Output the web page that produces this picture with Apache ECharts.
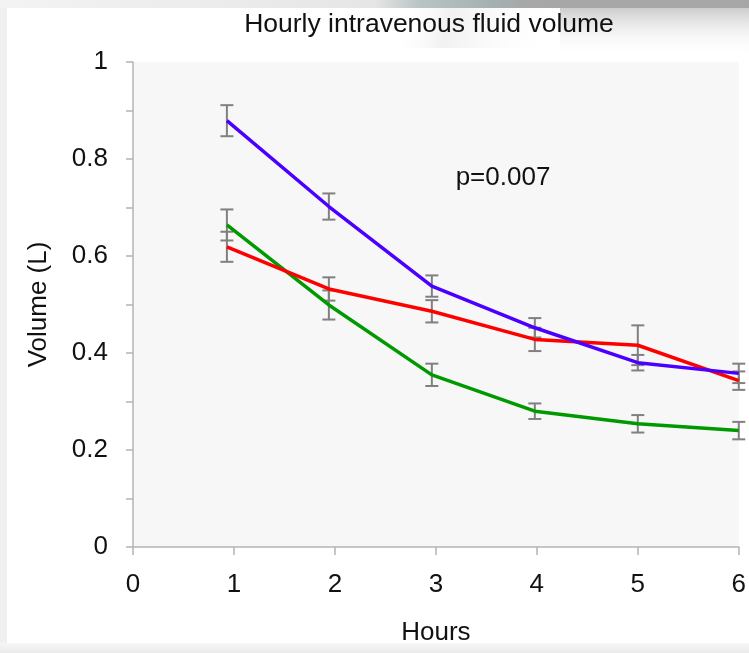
<!DOCTYPE html>
<html>
<head>
<meta charset="utf-8">
<script src="https://cdn.jsdelivr.net/npm/echarts@6/dist/echarts.min.js"></script>
<style>
html,body{margin:0;padding:0;background:#fff;}
#c{width:749px;height:653px;}
</style>
</head>
<body>
<div id="c"></div>
<script>
// ---- data ----
var hours = [0.93, 1.94, 2.96, 3.98, 5.0, 6.0];
var blueVals  = [0.879, 0.702, 0.538, 0.452, 0.380, 0.358];
var redVals   = [0.619, 0.532, 0.486, 0.428, 0.416, 0.343];
var greenVals = [0.664, 0.499, 0.355, 0.280, 0.254, 0.240];
var blueErr  = [0.032, 0.027, 0.022, 0.020, 0.016, 0.020];
var redErr   = [0.031, 0.024, 0.023, 0.024, 0.041, 0.019];
var greenErr = [0.032, 0.030, 0.023, 0.016, 0.018, 0.018];
var xTicks = [0, 1, 2, 3, 4, 5, 6];
var yTickLabels = ['0', '0.2', '0.4', '0.6', '0.8', '1'];
var titleText = 'Hourly intravenous fluid volume';
var pText = 'p=0.007';

var FONT = "'Liberation Sans', Arial, sans-serif";
var AX = '#b4b4b4';

function pairs(xs, ys) { return xs.map(function (x, i) { return [x, ys[i]]; }); }
function triples(xs, ys, es) { return xs.map(function (x, i) { return [x, ys[i], es[i]]; }); }

function errRender(params, api) {
  var x = api.value(0), y = api.value(1), e = api.value(2);
  var top = api.coord([x, y + e]);
  var bot = api.coord([x, y - e]);
  var hw = 6.5;
  var st = { stroke: '#808080', lineWidth: 2 };
  return {
    type: 'group',
    children: [
      { type: 'line', shape: { x1: top[0], y1: top[1], x2: bot[0], y2: bot[1] }, style: st },
      { type: 'line', shape: { x1: top[0] - hw, y1: top[1], x2: top[0] + hw, y2: top[1] }, style: st },
      { type: 'line', shape: { x1: bot[0] - hw, y1: bot[1], x2: bot[0] + hw, y2: bot[1] }, style: st }
    ]
  };
}

function errSeries(xs, ys, es) {
  return {
    type: 'custom', renderItem: errRender, data: triples(xs, ys, es),
    z: 2, silent: true, encode: { x: 0, y: [1] }
  };
}
function lineSeries(xs, ys, color) {
  return {
    type: 'line', data: pairs(xs, ys), showSymbol: false, symbol: 'none',
    lineStyle: { color: color, width: 3.5 }, z: 3, silent: true, animation: false
  };
}

var chart = echarts.init(document.getElementById('c'), null, { renderer: 'canvas' });
chart.setOption({
  animation: false,
  backgroundColor: '#ffffff',
  textStyle: { fontFamily: FONT },
  title: {
    text: titleText, left: 429, top: 11, textAlign: 'center', padding: 0,
    textStyle: { fontFamily: FONT, fontSize: 26.5, fontWeight: 'normal', color: '#111' }
  },
  grid: {
    left: 133, right: 9, top: 62, bottom: 106, show: true,
    backgroundColor: '#f7f7f7', borderWidth: 0
  },
  xAxis: {
    type: 'value', min: xTicks[0], max: xTicks[xTicks.length - 1], interval: 1,
    name: 'Hours', nameLocation: 'middle', nameGap: 73,
    nameTextStyle: { fontFamily: FONT, fontSize: 26, color: '#111' },
    axisLine: { show: true, lineStyle: { color: AX, width: 1.5 } },
    axisTick: { show: true, length: 8, lineStyle: { color: AX, width: 1.5 } },
    axisLabel: { margin: 25, fontFamily: FONT, fontSize: 26, color: '#111' },
    splitLine: { show: false }
  },
  yAxis: {
    type: 'value', min: 0, max: 1, interval: 0.1,
    name: 'Volume (L)', nameLocation: 'middle', nameGap: 81, nameRotate: 90,
    nameTextStyle: { fontFamily: FONT, fontSize: 26, color: '#111' },
    axisLine: { show: true, lineStyle: { color: AX, width: 1.5 } },
    axisTick: { show: true, length: 7, lineStyle: { color: AX, width: 1.5 } },
    axisLabel: {
      margin: 25, fontFamily: FONT, fontSize: 26, color: '#111',
      formatter: function (v) {
        var k = Math.round(v * 10);
        return k % 2 === 0 ? yTickLabels[k / 2] : '';
      }
    },
    splitLine: { show: false }
  },
  graphic: [
    { type: 'rect', z: 100, shape: { x: 0, y: 0, width: 749, height: 8 },
      style: { fill: new echarts.graphic.LinearGradient(0, 0, 1, 0, [
        { offset: 0, color: '#f3f3f3' }, { offset: 0.5, color: '#e6e6e6' },
        { offset: 0.56, color: '#b9c4c4' }, { offset: 0.66, color: '#a4b0b0' },
        { offset: 0.7, color: '#a8a8a8' }, { offset: 1, color: '#a6a6a6' }]) } },
    { type: 'rect', z: 0, shape: { x: 560, y: 8, width: 189, height: 48 },
      style: { fill: new echarts.graphic.LinearGradient(0, 0, 0, 1, [
        { offset: 0, color: 'rgba(170,170,170,0.6)' }, { offset: 1, color: 'rgba(255,255,255,0)' }]) } },
    { type: 'rect', z: 0, shape: { x: 400, y: 8, width: 160, height: 40 },
      style: { fill: new echarts.graphic.LinearGradient(0, 0, 1, 1, [
        { offset: 0, color: 'rgba(255,255,255,0)' }, { offset: 0.3, color: 'rgba(200,200,200,0.25)' }, { offset: 1, color: 'rgba(255,255,255,0)' }]) } },
    { type: 'rect', z: 0, shape: { x: 0, y: 8, width: 7, height: 645 }, style: { fill: '#f0f0f0' } },
    { type: 'rect', z: 0, shape: { x: 0, y: 643, width: 749, height: 10 },
      style: { fill: new echarts.graphic.LinearGradient(0, 0, 0, 1, [
        { offset: 0, color: '#f6f6f6' }, { offset: 1, color: '#ebebeb' }]) } },
    { type: 'text', z: 50, x: 503, y: 178,
      style: { text: pText, fontFamily: FONT, fontSize: 26, fill: '#111', textAlign: 'center', textVerticalAlign: 'middle' } }
  ],
  series: [
    errSeries(hours, blueVals, blueErr),
    errSeries(hours, redVals, redErr),
    errSeries(hours, greenVals, greenErr),
    lineSeries(hours, greenVals, '#009a00'),
    lineSeries(hours, redVals, '#ff0000'),
    lineSeries(hours, blueVals, '#4b00ff')
  ]
});
</script>
</body>
</html>
